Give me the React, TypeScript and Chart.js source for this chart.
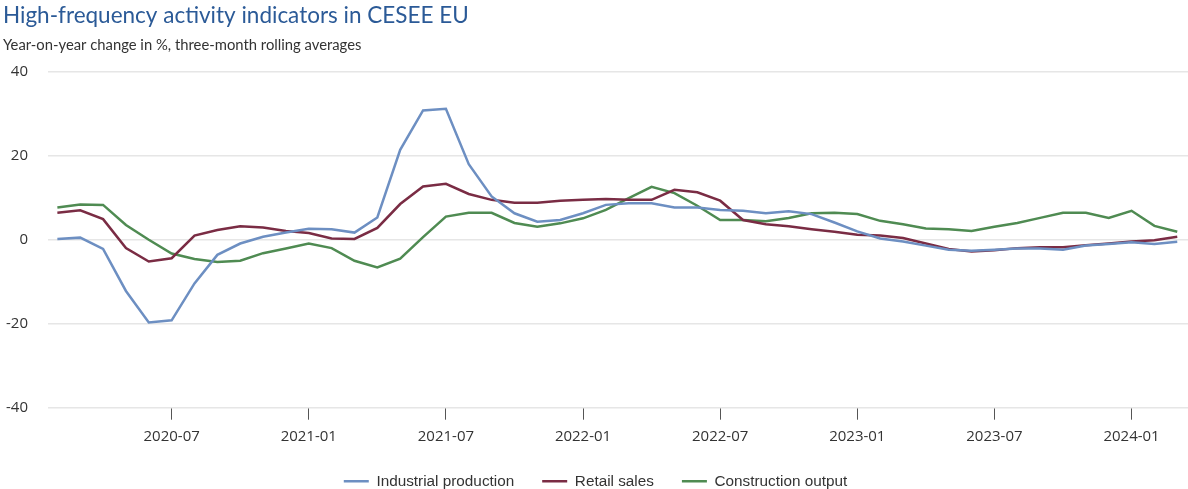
import React, { useEffect, useRef } from "react";
import { Chart, registerables } from "chart.js";

Chart.register(...registerables);

const months: string[] = [
  "2020-02","2020-03","2020-04","2020-05","2020-06","2020-07","2020-08","2020-09","2020-10","2020-11","2020-12",
  "2021-01","2021-02","2021-03","2021-04","2021-05","2021-06","2021-07","2021-08","2021-09","2021-10","2021-11","2021-12",
  "2022-01","2022-02","2022-03","2022-04","2022-05","2022-06","2022-07","2022-08","2022-09","2022-10","2022-11","2022-12",
  "2023-01","2023-02","2023-03","2023-04","2023-05","2023-06","2023-07","2023-08","2023-09","2023-10","2023-11","2023-12",
  "2024-01","2024-02","2024-03",
];

const tickLabels: string[] = ["2020-07","2021-01","2021-07","2022-01","2022-07","2023-01","2023-07","2024-01"];

const industrialProduction: number[] = [
  0.2, 0.5, -2.2, -12.2, -19.7, -19.2, -10.4, -3.6, -0.9, 0.7, 1.7,
  2.6, 2.5, 1.7, 5.3, 21.4, 30.8, 31.2, 18.0, 10.3, 6.3, 4.3, 4.7,
  6.3, 8.3, 8.7, 8.7, 7.7, 7.7, 7.1, 6.9, 6.3, 6.8, 6.1, 4.1,
  2.0, 0.3, -0.4, -1.4, -2.4, -2.6, -2.4, -2.1, -2.1, -2.4, -1.4, -1.0,
  -0.6, -1.0, -0.5,
];

const retailSales: number[] = [
  6.4, 7.0, 4.9, -2.0, -5.2, -4.4, 1.0, 2.3, 3.2, 2.9, 2.1,
  1.6, 0.3, 0.2, 2.8, 8.5, 12.7, 13.3, 10.9, 9.5, 8.8, 8.8, 9.3,
  9.5, 9.7, 9.5, 9.5, 11.9, 11.3, 9.3, 4.7, 3.7, 3.2, 2.5, 1.9,
  1.2, 1.0, 0.4, -0.9, -2.2, -2.8, -2.5, -2.0, -1.8, -1.8, -1.3, -0.9,
  -0.4, -0.1, 0.7,
];

const constructionOutput: number[] = [
  7.7, 8.4, 8.3, 3.5, 0.0, -3.3, -4.6, -5.3, -5.0, -3.2, -2.1,
  -0.9, -2.0, -5.0, -6.6, -4.5, 0.6, 5.5, 6.4, 6.4, 4.0, 3.1, 3.9,
  5.1, 7.1, 9.9, 12.6, 11.1, 8.1, 4.7, 4.7, 4.4, 5.2, 6.3, 6.4,
  6.1, 4.5, 3.7, 2.7, 2.5, 2.1, 3.1, 4.0, 5.2, 6.4, 6.4, 5.2,
  6.9, 3.3, 1.9,
];

const seriesNames: string[] = ["Industrial production", "Retail sales", "Construction output"];
const seriesColors: string[] = ["#6d8fc2", "#7a2c44", "#4f8b52"];

export default function App() {
  const canvasRef = useRef<HTMLCanvasElement | null>(null);

  useEffect(() => {
    if (!canvasRef.current) return;
    const allSeries = [industrialProduction, retailSales, constructionOutput];
    const tickIndices = tickLabels.map((t) => months.indexOf(t));
    const chart = new Chart(canvasRef.current, {
      type: "line",
      data: {
        datasets: allSeries.map((s, k) => ({
          label: seriesNames[k],
          data: s.map((v, i) => ({ x: i, y: v })),
          borderColor: seriesColors[k],
          backgroundColor: seriesColors[k],
          borderWidth: 2.5,
          pointRadius: 0,
          pointHoverRadius: 0,
          tension: 0,
          fill: false,
        })),
      },
      options: {
        animation: false,
        responsive: false,
        layout: { padding: { left: 3, right: 0, top: 0, bottom: -10 } },
        plugins: {
          tooltip: { enabled: false },
          title: {
            display: true,
            text: "High-frequency activity indicators in CESEE EU",
            align: "start",
            color: "#2b5a97",
            font: { family: "Lato", size: 22.5, weight: "normal" },
            padding: { top: 2, bottom: 0 },
          },
          subtitle: {
            display: true,
            text: "Year-on-year change in %, three-month rolling averages",
            align: "start",
            color: "#333333",
            font: { family: "Lato", size: 14.8, weight: "normal" },
            padding: { top: 7.5, bottom: 17.5 },
          },
          legend: {
            position: "bottom",
            labels: {
              usePointStyle: true,
              pointStyle: "line",
              pointStyleWidth: 25,
              boxHeight: 3,
              padding: 28,
              color: "#333333",
              font: { family: "Liberation Sans", size: 15.3 },
            },
          },
        },
        scales: {
          x: {
            type: "linear",
            min: -0.41,
            max: 49.47,
            afterBuildTicks: (scale: any) => {
              scale.ticks = tickIndices.map((v) => ({ value: v }));
            },
            afterFit: (scale: any) => {
              scale.height = scale.height - 9;
            },
            ticks: {
              autoSkip: false,
              maxRotation: 0,
              padding: 8.5,
              color: "#333333",
              font: { family: "Open Sans", size: 15 },
              callback: (value: any) => months[Math.round(Number(value))],
            },
            grid: {
              drawOnChartArea: false,
              drawTicks: true,
              tickLength: 12,
              tickColor: "#555555",
              tickWidth: 1,
            },
            border: { display: false },
          },
          y: {
            min: -40,
            max: 40,
            afterFit: (scale: any) => {
              scale.width = 45;
            },
            ticks: {
              stepSize: 20,
              padding: 20,
              color: "#333333",
              font: { family: "Open Sans", size: 15 },
            },
            grid: {
              color: "#e6e6e6",
              lineWidth: 1.5,
              drawTicks: false,
            },
            border: { display: false },
          },
        },
      },
    } as any);
    return () => chart.destroy();
  }, []);

  return (
    <div style={{ position: "absolute", left: 0, top: 0, width: 1188, height: 489, background: "#ffffff" }}>
      <canvas ref={canvasRef} width={1188} height={489} style={{ display: "block" }} />
    </div>
  );
}
